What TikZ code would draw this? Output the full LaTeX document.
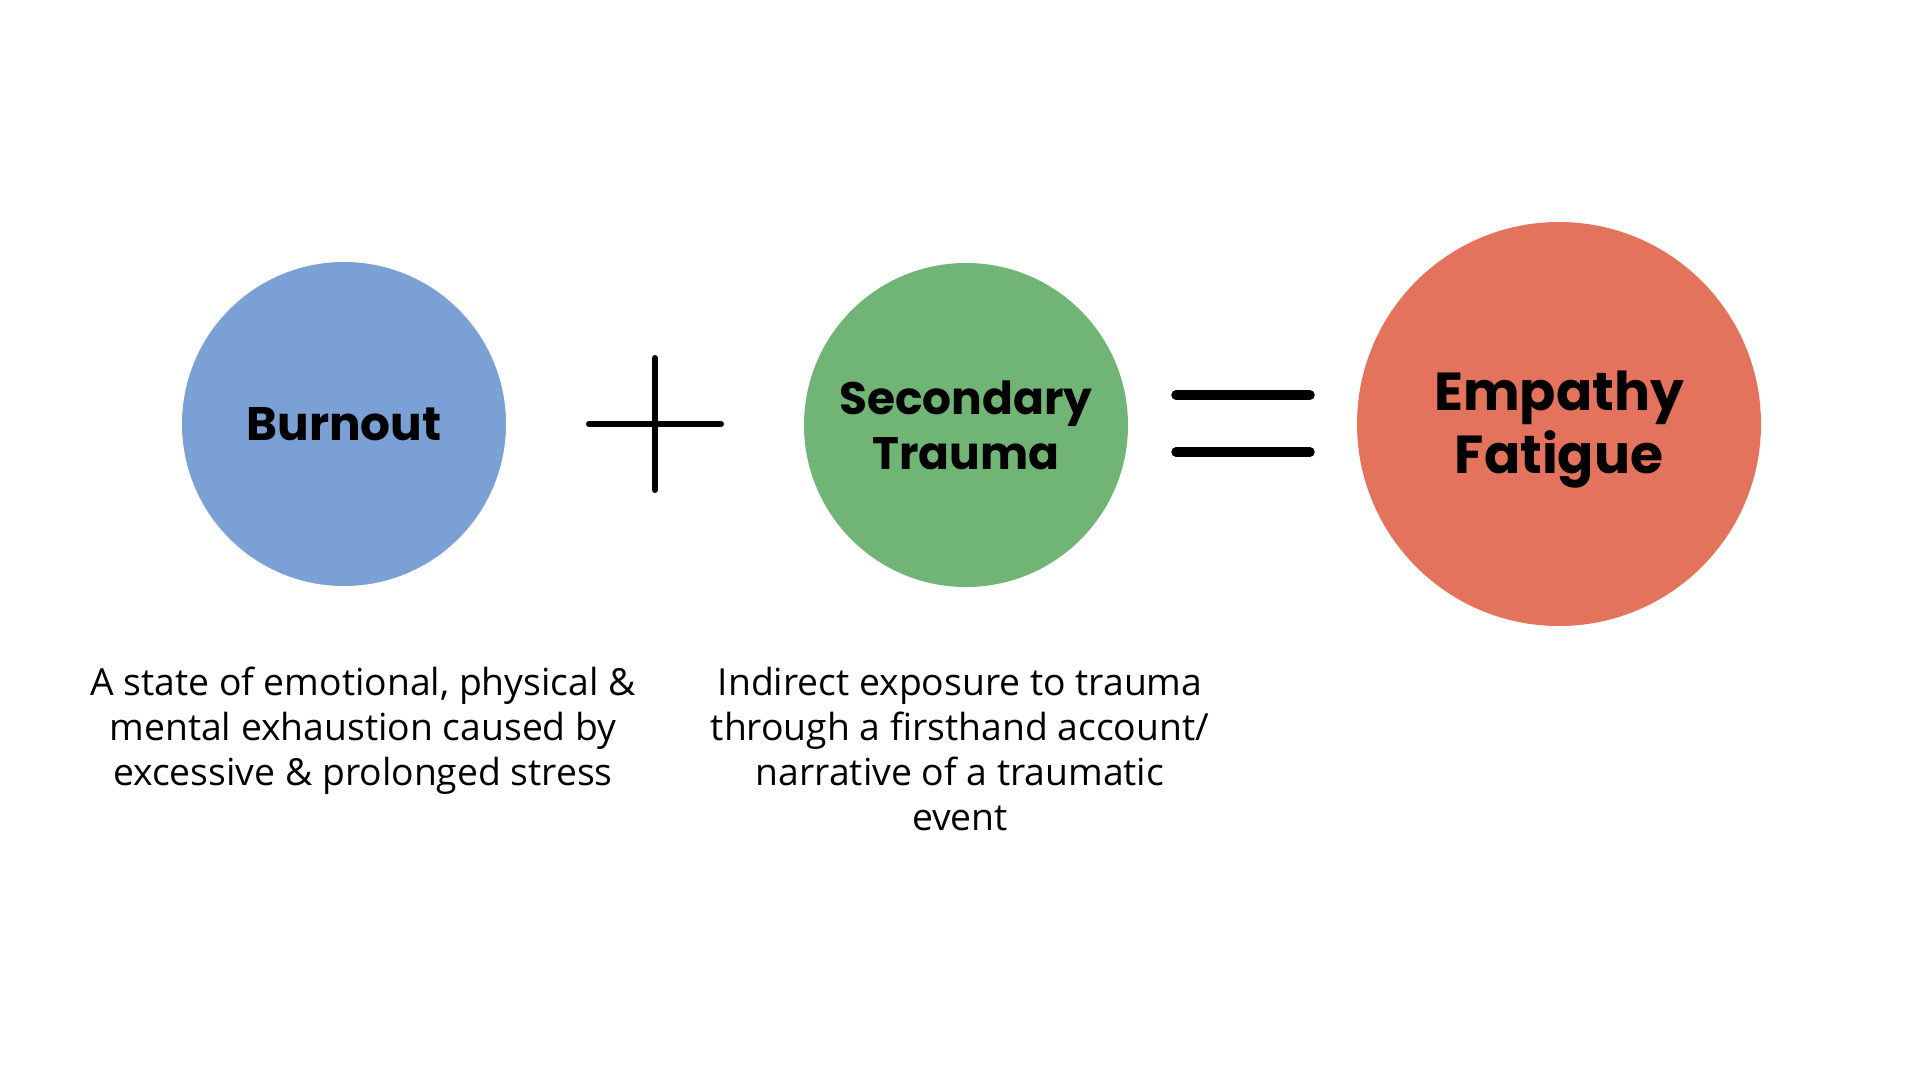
\documentclass[tikz,border=0pt]{standalone}
\usepackage{fontspec}
\setmainfont{Open Sans}
\newfontfamily\headfont{Poppins}[UprightFont=* Bold]
\definecolor{cblue}{HTML}{7BA0D6}
\definecolor{cgreen}{HTML}{70B575}
\definecolor{cred}{HTML}{E3735C}
\begin{document}
\begin{tikzpicture}[x=1pt,y=-1pt,
  bubble/.style={circle,inner sep=0pt,draw=none,align=center,
    font=\headfont\fontsize{45.5}{55}\selectfont},
  headtext/.style={inner sep=0pt,align=center},
  desc/.style={align=center,inner sep=0pt,font=\fontsize{37.3}{45}\selectfont},
  opline/.style={line width=6pt,line cap=round},
  eqline/.style={line width=9.5pt,line cap=round}]
\useasboundingbox[fill=white] (0,0) rectangle (1920,1080);
\node[bubble,fill=cblue,minimum size=324pt,font=\headfont\fontsize{47}{55}\selectfont] (burnout) at (344,424) {Burnout};
\node[bubble,fill=cgreen,minimum size=324pt] (secondary) at (966,425) {Secondary\\Trauma};
\node[bubble,fill=cred,minimum size=404pt] (empathy) at (1559,424) {};
\node[headtext,font=\headfont\fontsize{53.5}{63}\selectfont] (empathyt) at ([yshift=-6pt]empathy.center) {Empathy\\Fatigue};
\coordinate (pl) at (589,424); \coordinate (pr) at (721,424);
\coordinate (pt) at (655,358); \coordinate (pb) at (655,490);
\draw[opline] (pl) -- (pr);
\draw[opline] (pt) -- (pb);
\coordinate (e1l) at (1176,395); \coordinate (e1r) at (1310,395);
\coordinate (e2l) at (1176,452); \coordinate (e2r) at (1310,452);
\draw[eqline] (e1l) -- (e1r);
\draw[eqline] (e2l) -- (e2r);
\node[desc] (d1) at (363,731) {A state of emotional, physical \&\\mental exhaustion caused by\\excessive \& prolonged stress};
\node[desc] (d2) at (960,749) {Indirect exposure to trauma\\through a firsthand account/\\narrative of a traumatic\\event};
\end{tikzpicture}
\end{document}
